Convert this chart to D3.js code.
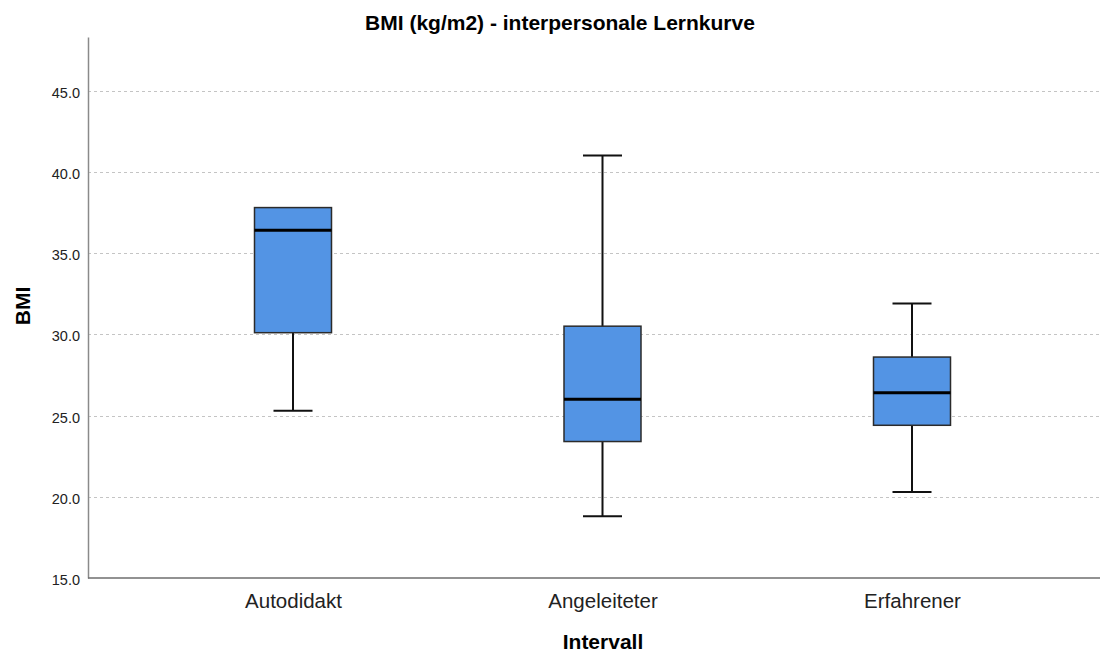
<!DOCTYPE html>
<html>
<head>
<meta charset="utf-8">
<script src="https://cdn.jsdelivr.net/npm/d3@7"></script>
<style>
  body { margin: 0; background: #fff; }
  svg { display: block; font-family: "Liberation Sans", Arial, sans-serif; }
</style>
</head>
<body>
<div id="chart"></div>
<script>
// data
var categories = ['Autodidakt', 'Angeleiteter', 'Erfahrener']
var whiskerLow = [25.3, 18.8, 20.3]
var q1 = [30.1, 23.4, 24.4]
var median = [36.4, 26.0, 26.4]
var q3 = [37.8, 30.5, 28.6]
var whiskerHigh = [37.8, 41.0, 31.9]
var yTicks = [15, 20, 25, 30, 35, 40, 45]

var width = 1113
var height = 652
var margin = { top: 37, right: 13, bottom: 74, left: 88 }

var boxes = categories.map(function(c, i) {
  return { cat: c, lo: whiskerLow[i], q1: q1[i], med: median[i], q3: q3[i], hi: whiskerHigh[i] }
})

var svg = d3
  .select('#chart')
  .append('svg')
  .attr('width', width)
  .attr('height', height)

var x = d3
  .scalePoint()
  .domain(categories)
  .range([293, 912])

var y = d3
  .scaleLinear()
  .domain([15, 48.3])
  .range([height - margin.bottom, margin.top])

var boxW = 77
var capW = 39

// gridlines
svg
  .append('g')
  .selectAll('line')
  .data(yTicks.slice(1))
  .enter()
  .append('line')
  .attr('x1', margin.left)
  .attr('x2', width - margin.right)
  .attr('y1', function(d) { return Math.round(y(d)) + 0.5 })
  .attr('y2', function(d) { return Math.round(y(d)) + 0.5 })
  .style('stroke', '#c4c4c4')
  .style('stroke-width', 1)
  .style('stroke-dasharray', '3,3')

// y axis
var yAxis = svg
  .append('g')
  .attr('transform', 'translate(' + margin.left + ',0)')
  .call(d3.axisLeft(y).tickValues(yTicks).tickSize(0).tickPadding(8).tickFormat(d3.format('.1f')))
yAxis.select('.domain').style('stroke', '#8a8a8a').style('stroke-width', 1.5)
yAxis.selectAll('text').style('font-size', '14.5px').style('fill', '#222').attr('dy', '0.45em')

// x axis
var xAxis = svg
  .append('g')
  .attr('transform', 'translate(0,' + (height - margin.bottom) + ')')
  .call(d3.axisBottom(x).tickSize(0).tickPadding(15))
xAxis.select('.domain')
  .attr('d', 'M' + margin.left + ',0H' + (width - margin.right))
  .style('stroke', '#6e6e6e')
  .style('stroke-width', 1.5)
xAxis.selectAll('text').style('font-size', '20.5px').style('fill', '#222')

// boxes
var g = svg
  .selectAll('.box')
  .data(boxes)
  .enter()
  .append('g')
  .attr('class', 'box')

g.append('line')
  .attr('x1', function(d) { return x(d.cat) })
  .attr('x2', function(d) { return x(d.cat) })
  .attr('y1', function(d) { return y(d.hi) })
  .attr('y2', function(d) { return y(d.lo) })
  .style('stroke', '#111')
  .style('stroke-width', 2)

g.selectAll('.cap')
  .data(function(d) {
    var caps = [{ cat: d.cat, v: d.lo }]
    if (d.hi > d.q3) caps.push({ cat: d.cat, v: d.hi })
    return caps
  })
  .enter()
  .append('line')
  .attr('class', 'cap')
  .attr('x1', function(d) { return x(d.cat) - capW / 2 })
  .attr('x2', function(d) { return x(d.cat) + capW / 2 })
  .attr('y1', function(d) { return y(d.v) })
  .attr('y2', function(d) { return y(d.v) })
  .style('stroke', '#111')
  .style('stroke-width', 2)

g.append('rect')
  .attr('x', function(d) { return x(d.cat) - boxW / 2 })
  .attr('y', function(d) { return y(d.q3) })
  .attr('width', boxW)
  .attr('height', function(d) { return y(d.q1) - y(d.q3) })
  .style('fill', '#5394e4')
  .style('stroke', '#2b2b2b')
  .style('stroke-width', 1.5)

g.append('line')
  .attr('x1', function(d) { return x(d.cat) - boxW / 2 })
  .attr('x2', function(d) { return x(d.cat) + boxW / 2 })
  .attr('y1', function(d) { return y(d.med) })
  .attr('y2', function(d) { return y(d.med) })
  .style('stroke', '#000')
  .style('stroke-width', 3)

// titles
svg
  .append('text')
  .attr('x', 560)
  .attr('y', 30)
  .attr('text-anchor', 'middle')
  .style('font-size', '21px')
  .style('font-weight', 'bold')
  .text('BMI (kg/m2) - interpersonale Lernkurve')

svg
  .append('text')
  .attr('transform', 'translate(30,306) rotate(-90)')
  .attr('text-anchor', 'middle')
  .style('font-size', '21px')
  .style('font-weight', 'bold')
  .text('BMI')

svg
  .append('text')
  .attr('x', 603)
  .attr('y', 649)
  .attr('text-anchor', 'middle')
  .style('font-size', '21px')
  .style('font-weight', 'bold')
  .text('Intervall')
</script>
</body>
</html>
